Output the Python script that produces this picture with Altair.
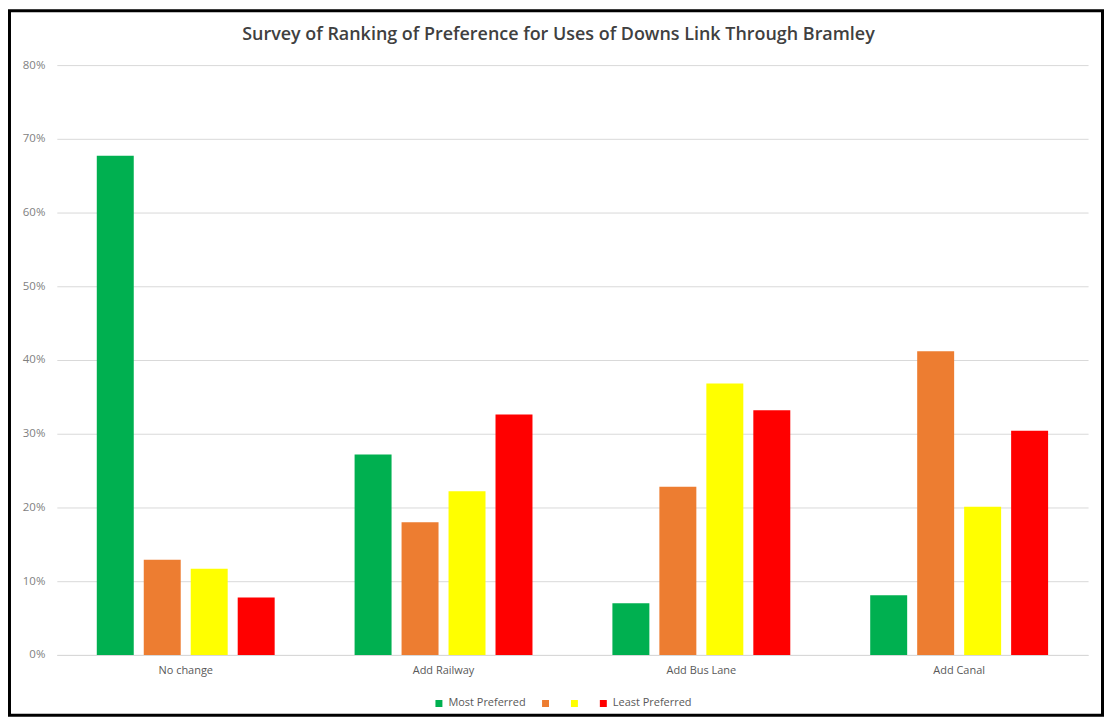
import altair as alt
import pandas as pd

categories = ["No change", "Add Railway", "Add Bus Lane", "Add Canal"]
series = ["Most Preferred", "Second", "Third", "Least Preferred"]
most_preferred = [0.677, 0.272, 0.070, 0.081]
second = [0.129, 0.180, 0.228, 0.412]
third = [0.117, 0.222, 0.368, 0.201]
least_preferred = [0.078, 0.326, 0.332, 0.304]
colors = ["#00B050", "#ED7D31", "#FFFF00", "#FF0000"]
y_ticks = [0, 0.1, 0.2, 0.3, 0.4, 0.5, 0.6, 0.7, 0.8]

rows = []
for s, vals in zip(series, [most_preferred, second, third, least_preferred]):
    for c, v in zip(categories, vals):
        rows.append({"category": c, "series": s, "value": v})
df = pd.DataFrame(rows)

font = "Open Sans"

bars = alt.Chart(df).mark_bar().encode(
    x=alt.X("category:N", sort=categories, title=None,
            scale=alt.Scale(paddingInner=0.31, paddingOuter=0.155),
            axis=alt.Axis(labelAngle=0, ticks=False, domain=True, domainColor="#d9d9d9",
                          labelColor="#595959", labelFontSize=11, labelFont=font,
                          labelPadding=10, grid=False)),
    xOffset=alt.XOffset("series:N", sort=series,
                        scale=alt.Scale(paddingInner=0.213, paddingOuter=0)),
    y=alt.Y("value:Q", title=None,
            scale=alt.Scale(domain=[0, 0.8], nice=False),
            axis=alt.Axis(values=y_ticks, format=".0%", ticks=False, domain=False,
                          gridColor="#d9d9d9", labelColor="#7f7f7f", labelFontSize=11.5,
                          labelFont=font, labelPadding=12)),
    color=alt.Color("series:N", sort=series,
                    scale=alt.Scale(domain=series, range=colors),
                    legend=alt.Legend(orient="none", legendX=378, legendY=635,
                                      direction="horizontal", title=None,
                                      symbolType="square", symbolSize=49, symbolStrokeWidth=0,
                                      labelFontSize=11, labelFont=font, labelColor="#595959",
                                      labelOffset=4, columnPadding=14, padding=0,
                                      labelExpr="(datum.label == 'Second' || datum.label == 'Third') ? '' : datum.label")),
)

frame = alt.Chart(pd.DataFrame({"a": [0]})).mark_rect(
    filled=False, stroke="black", strokeWidth=3
).encode(
    x=alt.value(-47.5), x2=alt.value(1049.5),
    y=alt.value(-54.5), y2=alt.value(652.5),
)

chart = alt.layer(bars, frame).properties(
    width=1035, height=592,
    title=alt.TitleParams("Survey of Ranking of Preference for Uses of Downs Link Through Bramley",
                          font=font, fontSize=18, fontWeight=600, color="#404040",
                          anchor="middle", dx=-14, offset=0, dy=35),
    autosize=alt.AutoSizeParams(type="none"),
    padding={"left": 49, "top": 56, "right": 16, "bottom": 62},
).configure_view(stroke=None)

chart.save("out.html", embed_options={"renderer": "svg", "actions": False})
